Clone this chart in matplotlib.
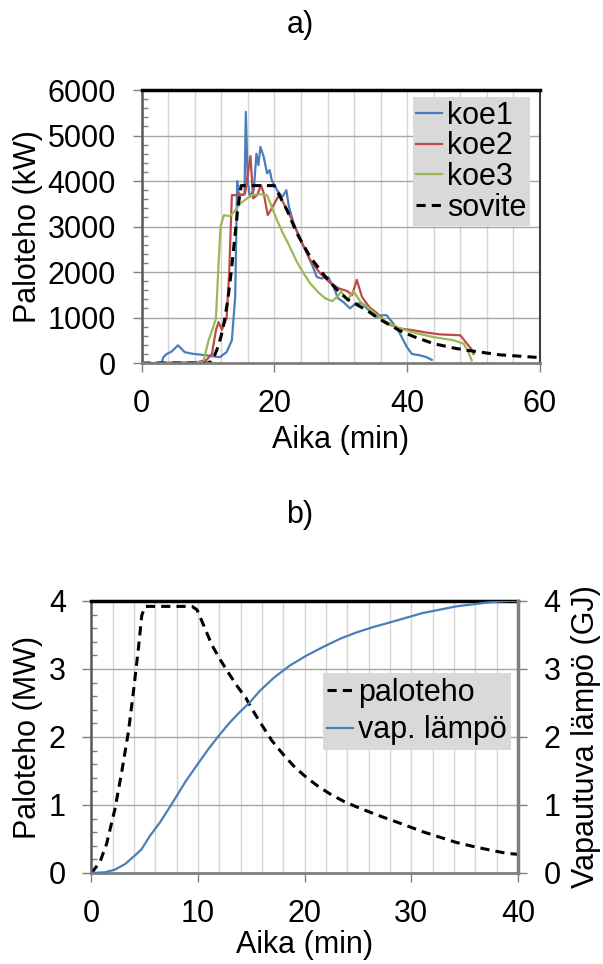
import matplotlib
matplotlib.use("Agg")
import matplotlib.pyplot as plt
from matplotlib.ticker import MultipleLocator

plt.rcParams['font.family'] = ['Liberation Sans', 'DejaVu Sans']

# a) mitatut paloteho-käyrät (min, kW)
koe1_t = [1.3, 3.0, 3.3, 3.8, 4.5, 5.5, 6.5, 7.6, 9.8, 10.8, 11.8, 12.8, 13.6, 14.1, 14.4,
          14.6, 14.9, 15.5, 15.7, 16.0, 16.3, 16.9, 17.3, 17.6, 17.9, 18.4, 18.9, 19.3, 19.6,
          20.4, 21.2, 21.8, 22.2, 22.9, 23.9, 24.7, 25.7, 26.4, 27.1, 28.1, 28.9, 29.6, 30.4,
          31.4, 32.2, 33.2, 34.2, 35.4, 36.2, 36.9, 37.9, 38.9, 39.95, 40.7, 41.9, 42.9, 43.7]
koe1_P = [0, 0, 130, 200, 250, 390, 240, 205, 170, 145, 130, 240, 500, 1450, 4000,
          3750, 3700, 3700, 5520, 4000, 3650, 3800, 4600, 4350, 4750, 4530, 4170, 4240, 4020,
          3800, 3650, 3800, 3430, 3070, 2700, 2480, 2150, 1890, 1860, 1890, 1670, 1420, 1340,
          1200, 1310, 1310, 1160, 1010, 1050, 1050, 870, 650, 350, 200, 170, 130, 70]

koe2_t = [2.0, 8.3, 9.8, 10.6, 11.2, 11.6, 12.1, 12.8, 13.2, 13.6, 14.4, 15.1, 15.6, 16.4,
          16.8, 17.4, 18.0, 18.4, 19.0, 19.6, 20.7, 21.7, 22.9, 24.2, 25.4, 26.9, 28.5, 29.7,
          31.0, 31.7, 32.4, 33.2, 34.3, 35.5, 36.9, 38.9, 40.9, 42.9, 44.9, 48.0, 49.0, 49.7, 50.0]
koe2_P = [0, 15, 70, 200, 720, 900, 730, 975, 1970, 3690, 3690, 3690, 3730, 4550,
          3620, 3690, 3910, 3730, 3250, 3400, 3690, 3430, 3070, 2630, 2260, 1970, 1750, 1640,
          1580, 1490, 1830, 1450, 1230, 1090, 870, 760, 720, 670, 630, 610, 425, 300, 200]

koe3_t = [2.0, 9.3, 10.1, 10.8, 11.2, 11.6, 11.9, 12.4, 13.3, 13.9, 14.9, 15.9, 16.6, 17.9,
          18.9, 19.6, 20.4, 21.2, 22.2, 23.4, 24.4, 25.4, 26.7, 27.7, 28.7, 29.7, 30.0, 31.0,
          31.9, 33.0, 34.0, 36.4, 38.9, 41.5, 44.0, 47.0, 48.5, 49.2, 49.7]
koe3_P = [0, 20, 500, 790, 975, 2190, 3000, 3250, 3230, 3320, 3510, 3620, 3690, 3710,
          3690, 3430, 3140, 2880, 2590, 2220, 1970, 1750, 1540, 1420, 1360, 1490, 1580, 1380,
          1580, 1340, 1230, 940, 760, 650, 570, 500, 425, 240, 60]

sov_t = [0, 10.0, 10.5, 11.0, 11.5, 12.0, 12.5, 13.0, 13.5, 14.0, 14.5, 15.0, 20.0, 21.9,
         23.4, 25.4, 27.5, 29.5, 31.0, 33.9, 36.0, 38.9, 41.0, 44.0, 47.0, 49.0, 52.0, 54.0,
         57.0, 60.0]
sov_P = [0, 0, 40, 170, 350, 600, 950, 1400, 2000, 2700, 3400, 3900, 3900, 3360,
         2850, 2330, 1930, 1600, 1400, 1160, 950, 710, 580, 425, 330, 280, 220, 180,
         150, 120]

# b) sovite (MW) ja vapautuva lämpö (GJ)
b_t = [0, 0.79, 1.42, 2.2, 2.83, 3.46, 3.93, 4.4, 4.72, 5.03, 9.43, 9.9, 10.5, 11.3, 12.1,
       12.9, 13.7, 14.5, 14.9, 15.8, 16.9, 18.0, 19.1, 20.2, 21.3, 22.4, 23.7, 24.9, 26.5,
       27.9, 29.5, 31.0, 32.6, 34.2, 35.8, 37.3, 38.9, 40.0]
b_P = [0.0, 0.16, 0.43, 0.94, 1.48, 2.07, 2.66, 3.30, 3.79, 3.92, 3.92, 3.87, 3.65, 3.35, 3.13,
       2.93, 2.74, 2.57, 2.45, 2.22, 1.95, 1.74, 1.55, 1.40, 1.27, 1.16, 1.05, 0.97, 0.87,
       0.79, 0.70, 0.61, 0.53, 0.45, 0.39, 0.34, 0.29, 0.275]
q_t = [0, 1.26, 2.2, 3.14, 4.09, 4.7, 5.5, 6.45, 7.55, 8.8, 10.0, 11.0, 11.95, 12.9, 13.8,
       14.8, 15.8, 17.1, 18.6, 20.2, 21.8, 23.4, 24.9, 26.5, 27.9, 31.0, 34.2, 37.3, 39.1, 40.0]
q_E = [0, 0.01, 0.05, 0.13, 0.26, 0.35, 0.55, 0.75, 1.02, 1.34, 1.61, 1.83, 2.02, 2.20, 2.35,
       2.50, 2.68, 2.87, 3.05, 3.20, 3.33, 3.45, 3.54, 3.62, 3.68, 3.82, 3.92, 3.98, 4.0, 4.0]

FS = 22
GRID_MAJ = '#a6a6a6'
GRID_MIN = '#d4d4d4'
AXIS_C = '#7f7f7f'

fig = plt.figure(figsize=(6.03, 9.64), dpi=100)


def style_axes(ax):
    ax.set_axisbelow(True)
    ax.grid(True, which='major', axis='y', color=GRID_MAJ, lw=1)
    ax.grid(True, which='both', axis='x', color=GRID_MIN, lw=1)
    ax.spines['top'].set_color('black')
    ax.spines['top'].set_linewidth(2.5)
    ax.spines['left'].set_color('#595959')
    ax.spines['left'].set_linewidth(1.8)
    ax.spines['bottom'].set_color(AXIS_C)
    ax.spines['bottom'].set_linewidth(2)
    ax.tick_params(axis='both', which='major', direction='out', length=6.5, width=1,
                   color=AXIS_C, labelsize=FS, pad=12)
    ax.tick_params(axis='y', which='minor', direction='in', length=4, width=1, color=AXIS_C)
    ax.tick_params(axis='x', which='minor', length=0)


# ---- a) ----
ax1 = fig.add_axes([0.2347, 0.6234, 0.6609, 0.2832])
ax1.plot(koe1_t, koe1_P, color='#4a7ebb', lw=1.6, label='koe1')
ax1.plot(koe2_t, koe2_P, color='#be4b48', lw=1.6, label='koe2')
ax1.plot(koe3_t, koe3_P, color='#98b954', lw=1.6, label='koe3')
ax1.plot(sov_t, sov_P, color='black', lw=2.2, ls=(0, (3, 2)), label='sovite')
ax1.set_xlim(0, 60)
ax1.set_ylim(0, 6000)
ax1.xaxis.set_major_locator(MultipleLocator(20))
ax1.xaxis.set_minor_locator(MultipleLocator(4))
ax1.yaxis.set_major_locator(MultipleLocator(1000))
ax1.yaxis.set_minor_locator(MultipleLocator(200))
style_axes(ax1)
ax1.spines['right'].set_color('#404040')
ax1.spines['right'].set_linewidth(1.5)
ax1.set_xlabel('Aika (min)', fontsize=FS, va='center')
ax1.xaxis.set_label_coords(0.5, -0.282)
ax1.set_ylabel('Paloteho (kW)', fontsize=FS, va='center')
ax1.yaxis.set_label_coords(-0.285, 0.5)
ax1.legend(loc='upper right', bbox_to_anchor=(0.975, 0.974), borderaxespad=0,
           fontsize=FS, frameon=True, fancybox=False, facecolor='#d9d9d9',
           edgecolor='none', framealpha=1, handlelength=0.85, handletextpad=0.15,
           labelspacing=0.02, borderpad=0.12)
fig.text(0.4975, 0.974, 'a)', fontsize=FS, ha='center', va='center')

# ---- b) ----
ax2 = fig.add_axes([0.1517, 0.0944, 0.7073, 0.2822])
l1, = ax2.plot(b_t, b_P, color='black', lw=2.2, ls=(0, (3, 2)), label='paloteho')
ax2.set_xlim(0, 40)
ax2.set_ylim(0, 4)
ax2.xaxis.set_major_locator(MultipleLocator(10))
ax2.xaxis.set_minor_locator(MultipleLocator(2))
ax2.yaxis.set_major_locator(MultipleLocator(1))
ax2.yaxis.set_minor_locator(MultipleLocator(0.2))
style_axes(ax2)
ax2.set_xlabel('Aika (min)', fontsize=FS, va='center')
ax2.xaxis.set_label_coords(0.5, -0.265)
ax2.set_ylabel('Paloteho (MW)', fontsize=FS, va='center')
ax2.yaxis.set_label_coords(-0.149, 0.5)

ax3 = ax2.twinx()
l2, = ax3.plot(q_t, q_E, color='#4a7ebb', lw=1.6, label='vap. lämpö')
ax3.set_ylim(0, 4)
ax3.yaxis.set_major_locator(MultipleLocator(1))
for s in ['left', 'top', 'bottom']:
    ax3.spines[s].set_visible(False)
ax3.spines['right'].set_color(AXIS_C)
ax3.spines['right'].set_linewidth(2.5)
ax3.tick_params(axis='y', which='major', direction='out', length=6.5, width=1,
                color=AXIS_C, labelsize=FS, pad=12)
ax3.set_ylabel('Vapautuva lämpö (GJ)', fontsize=FS, va='center')
ax3.yaxis.set_label_coords(1.159, 0.5)
ax3.legend(handles=[l1, l2], loc='upper right', bbox_to_anchor=(0.984, 0.735),
           borderaxespad=0, fontsize=FS, frameon=True, fancybox=False, facecolor='#d9d9d9',
           edgecolor='none', framealpha=1, handlelength=0.85, handletextpad=0.15,
           labelspacing=0.25, borderpad=0.15)
fig.text(0.4975, 0.466, 'b)', fontsize=FS, ha='center', va='center')

fig.savefig('out.png', dpi=100)
